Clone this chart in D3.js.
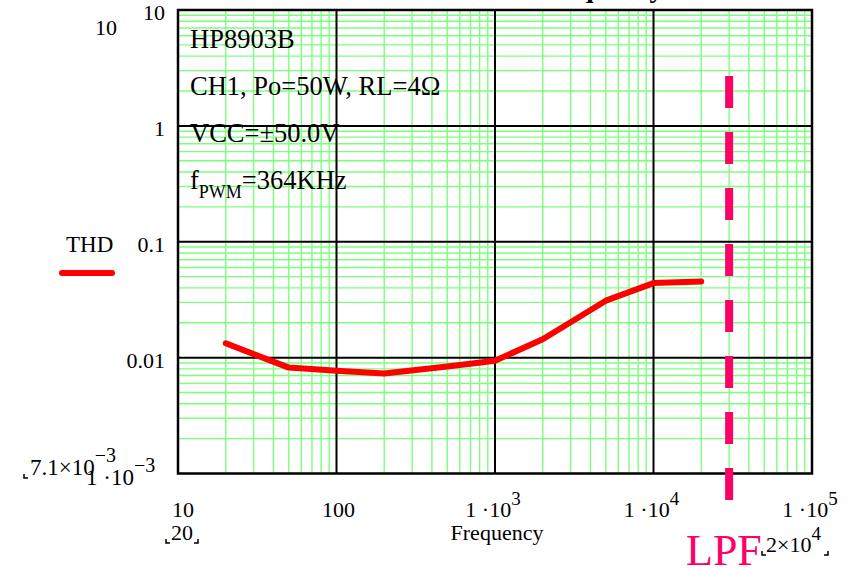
<!DOCTYPE html>
<html><head><meta charset="utf-8">
<script src="https://cdn.jsdelivr.net/npm/d3@7"></script>
<style>
html,body{margin:0;padding:0;background:#fff;}
svg{display:block;font-family:"Liberation Serif","Times New Roman",serif;}
</style></head>
<body>
<svg id="c" width="852" height="569"></svg>
<script>
// ---- data ----
const freq = [20, 50, 100, 200, 500, 1000, 2000, 5000, 10000, 20000];
const thd  = [0.0133, 0.0082, 0.0077, 0.0073, 0.0084, 0.0094, 0.0144, 0.031, 0.0440, 0.0455];
const xTicks = [10, 100, 1000, 10000, 100000];
const xTickMain = ["10", "100", "1 ·10", "1 ·10", "1 ·10"];
const xTickSup  = ["", "", "3", "4", "5"];
const yTicks = [10, 1, 0.1, 0.01];
const yTickLabels = ["10", "1", "0.1", "0.01"];
const lpfFreq = 30000;
const notes = ["HP8903B", "CH1, Po=50W, RL=4\u03A9", "VCC=\u00B150.0V"];

const svg = d3.select("#c");
svg.append("rect").attr("width",852).attr("height",569).attr("fill","#fff");

const L=178, R=812, T=10, B=473.5;
const x = d3.scaleLog().domain([10, 1e5]).range([L, R]);
const y = d3.scaleLog().domain([1e-3, 10]).range([B, T]);

// minor grid
const g = svg.append("g");
const minorX = [], minorY = [];
for (let d = 10; d < 1e5; d *= 10) for (let k = 2; k <= 9; k++) minorX.push(d*k);
for (let d = 1e-3; d < 10 - 1e-9; d *= 10) for (let k = 2; k <= 9; k++) minorY.push(d*k);
g.selectAll("line.mx").data(minorX).enter().append("line")
  .attr("x1", d=>x(d)).attr("x2", d=>x(d)).attr("y1", T).attr("y2", B)
  .attr("stroke","#7dff7d").attr("stroke-width",1.4);
g.selectAll("line.my").data(minorY).enter().append("line")
  .attr("y1", d=>y(d)).attr("y2", d=>y(d)).attr("x1", L).attr("x2", R)
  .attr("stroke","#7dff7d").attr("stroke-width",1.4);
// major grid
g.selectAll("line.Mx").data(xTicks.slice(1,-1)).enter().append("line")
  .attr("x1", d=>x(d)).attr("x2", d=>x(d)).attr("y1", T).attr("y2", B)
  .attr("stroke","#000").attr("stroke-width",2);
g.selectAll("line.My").data([1,0.1,0.01]).enter().append("line")
  .attr("y1", d=>y(d)).attr("y2", d=>y(d)).attr("x1", L).attr("x2", R)
  .attr("stroke","#000").attr("stroke-width",2);
svg.append("rect").attr("x",L).attr("y",T).attr("width",R-L).attr("height",B-T)
  .attr("fill","none").attr("stroke","#000").attr("stroke-width",2.5);

// title (mostly cut off at top)
svg.append("text").attr("x",430).attr("y",-3).attr("font-size",28).attr("font-weight","bold")
  .text("THD vs. Frequency");

// notes
notes.forEach((t,i)=>{
  svg.append("text").attr("x",190).attr("y",48+i*47).attr("font-size",26.5).text(t);
});
const fp = svg.append("text").attr("x",190).attr("y",189).attr("font-size",26.5);
fp.append("tspan").text("f");
fp.append("tspan").attr("font-size",18).attr("dy",9).text("PWM");
fp.append("tspan").attr("dy",-9).text("=364KHz");

// THD curve
const line = d3.line().x((d,i)=>x(freq[i])).y(d=>y(d));
svg.append("path").datum(thd).attr("d",line).attr("fill","none")
  .attr("stroke","#ff0000").attr("stroke-width",6)
  .attr("stroke-linejoin","round").attr("stroke-linecap","round");

// LPF marker
svg.append("line").attr("x1",x(lpfFreq)).attr("x2",x(lpfFreq)).attr("y1",76).attr("y2",500)
  .attr("stroke","#ff0066").attr("stroke-width",8).attr("stroke-dasharray","32,24");
svg.append("text").attr("x",686).attr("y",565).attr("font-size",44).attr("fill","#ff0066").text("LPF");

// y tick labels
yTicks.forEach((v,i)=>{
  svg.append("text").attr("x",165).attr("y", y(v)+10).attr("text-anchor","end")
    .attr("font-size",22).text(yTickLabels[i]);
});
svg.append("text").attr("x",95).attr("y",35).attr("font-size",22).text("10");

// legend
svg.append("text").attr("x",66).attr("y",252).attr("font-size",23).text("THD");
svg.append("line").attr("x1",62).attr("x2",112).attr("y1",273).attr("y2",273)
  .attr("stroke","#ff0000").attr("stroke-width",6).attr("stroke-linecap","round");

// x tick labels
xTicks.forEach((v,i)=>{
  const t = svg.append("text").attr("x", x(v) + (i===0?5:(i===1?2:-2))).attr("y",517)
    .attr("text-anchor","middle").attr("font-size",22);
  t.append("tspan").text(xTickMain[i]);
  if (xTickSup[i]) t.append("tspan").attr("dy",-12).attr("font-size",19).text(xTickSup[i]);
});
svg.append("text").attr("x",497).attr("y",540).attr("text-anchor","middle").attr("font-size",22).text("Frequency");

// Mathcad marker labels
function corner(xp, yp, left){
  const s = 4;
  svg.append("path").attr("d", left ? `M${xp},${yp-s}V${yp}H${xp+s}` : `M${xp},${yp-s}V${yp}H${xp-s}`)
    .attr("fill","none").attr("stroke","#000").attr("stroke-width",1.5);
}
svg.append("text").attr("x",182).attr("y",540).attr("text-anchor","middle").attr("font-size",22).text("20");
corner(166,543,true); corner(198,543,false);

const m2 = svg.append("text").attr("x",766).attr("y",552).attr("font-size",22);
m2.append("tspan").text("2\u00D710");
m2.append("tspan").attr("dy",-12).attr("font-size",19).text("4");
corner(762,555,true); corner(828,555,false);

const m3 = svg.append("text").attr("x",30).attr("y",475).attr("font-size",23);
m3.append("tspan").text("7.1\u00D710");
m3.append("tspan").attr("dy",-13).attr("font-size",20).text("\u22123");
corner(24,478,true);
const m4 = svg.append("text").attr("x",86).attr("y",485).attr("font-size",23);
m4.append("tspan").text("1 ·10");
m4.append("tspan").attr("dy",-13).attr("font-size",20).text("\u22123");
</script>
</body></html>
